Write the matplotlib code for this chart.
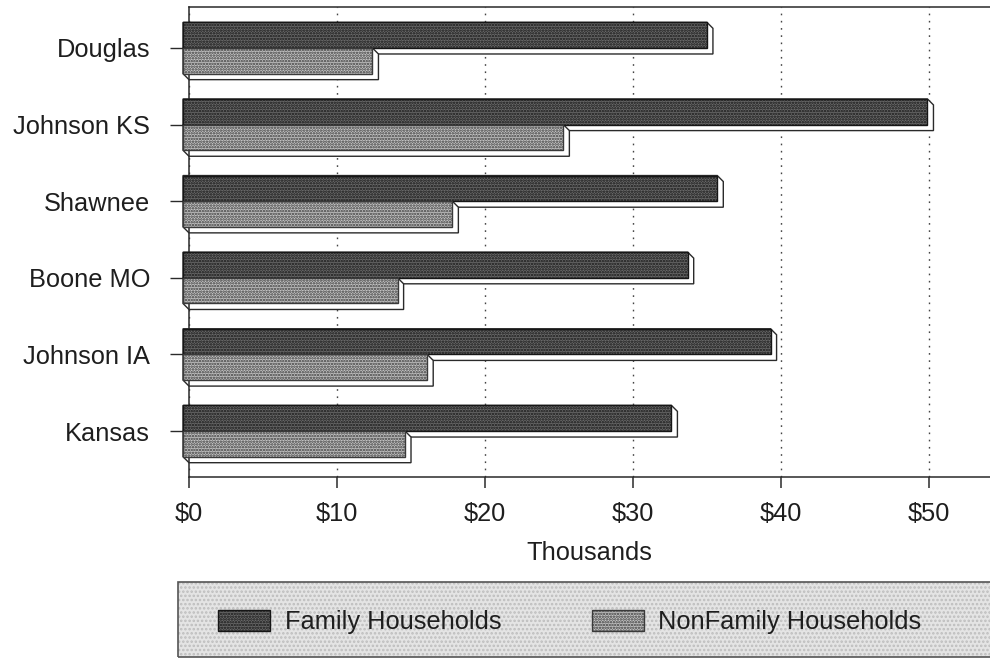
import matplotlib
matplotlib.use("Agg")
import matplotlib.pyplot as plt
from matplotlib.patches import Polygon, Rectangle

# Median household income by county, thousands of dollars
counties = ["Douglas", "Johnson KS", "Shawnee", "Boone MO", "Johnson IA", "Kansas"]
family = [35.4, 50.3, 36.1, 34.1, 39.7, 33.0]
nonfamily = [12.8, 25.7, 18.2, 14.5, 16.5, 15.0]
series_labels = ["Family Households", "NonFamily Households"]
xticks = [0, 10, 20, 30, 40, 50]
xtick_labels = ["$0", "$10", "$20", "$30", "$40", "$50"]

plt.rcParams["font.family"] = ["Liberation Sans", "DejaVu Sans"]
plt.rcParams["hatch.linewidth"] = 1.2
TEXT = "#1e1e1e"
LINE = "#2a2a2a"
FS = 18.3

W, H, DPI = 990, 658, 100
fig = plt.figure(figsize=(W / DPI, H / DPI), dpi=DPI, facecolor="white")

# plot frame in pixels
x0_px, x1_px, top_px, bot_px = 189, 990, 7, 477
ax = fig.add_axes([x0_px / W, 1 - bot_px / H, (x1_px - x0_px) / W, (bot_px - top_px) / H])
ax.set_facecolor("white")

xmax = 54.12
ax.set_xlim(0, xmax)
ax.set_ylim(5.6, -0.535)

# 3-D depth offset, converted from pixels to data units
ax_w_px = x1_px - x0_px
ax_h_px = bot_px - top_px
depth_px = 6
dx = depth_px * xmax / ax_w_px
dy = depth_px * (5.6 + 0.535) / ax_h_px

bar_h = 0.335
ypos = list(range(len(counties)))

fam_color = "#6a6a6a"
non_color = "#c4c4c4"


def depth_outline(v, ytop):
    pts = [(-dx, ytop), (v - dx, ytop), (v, ytop + dy), (v, ytop + bar_h + dy),
           (0, ytop + bar_h + dy), (-dx, ytop + bar_h)]
    ax.add_patch(Polygon(pts, closed=True, facecolor="white", edgecolor=LINE,
                         linewidth=1.0, zorder=2, clip_on=False))


for i, y in enumerate(ypos):
    depth_outline(family[i], y - bar_h)
    depth_outline(nonfamily[i], y)

fam_bars = ax.barh([y - bar_h for y in ypos], family, height=bar_h, left=-dx,
                   align="edge", color=fam_color, edgecolor="#161616", hatch="......",
                   linewidth=1.0, zorder=3, clip_on=False, label=series_labels[0])
non_bars = ax.barh(ypos, nonfamily, height=bar_h, left=-dx, align="edge",
                   color=non_color, edgecolor="#3a3a3a", hatch="......",
                   linewidth=1.0, zorder=3, clip_on=False, label=series_labels[1])

# axes styling
for side in ["left", "top", "bottom"]:
    ax.spines[side].set_color(LINE)
    ax.spines[side].set_linewidth(1.1)
ax.spines["right"].set_visible(False)

ax.set_xticks(xticks)
ax.set_xticklabels(xtick_labels)
ax.set_yticks(ypos)
ax.set_yticklabels(counties)
ax.tick_params(axis="x", length=8, width=1.1, color=LINE, pad=10, labelsize=FS,
               labelcolor=TEXT)
ax.tick_params(axis="y", length=14, width=1.0, color=LINE, pad=14, labelsize=FS,
               labelcolor=TEXT)
ax.xaxis.grid(True, linestyle=(0, (1.2, 4)), color="#444444", linewidth=1.0, zorder=0)
ax.set_axisbelow(True)
ax.set_xlabel("Thousands", fontsize=FS, color=TEXT, labelpad=11)

# legend panel: light stippled fill with a dark outline
panel_xy = (178 / W, 1 - 657 / H)
panel_wh = ((W + 10 - 178) / W, 75 / H)
fig.patches.append(Rectangle(panel_xy, *panel_wh, transform=fig.transFigure,
                             facecolor="#e4e4e4", edgecolor="#bdbdbd", hatch="....",
                             linewidth=0, zorder=0))
fig.patches.append(Rectangle(panel_xy, *panel_wh, transform=fig.transFigure,
                             facecolor="none", edgecolor="#555555", linewidth=1.2,
                             zorder=1))

fs_px = FS * DPI / 72
leg = fig.legend(handles=[fam_bars, non_bars], labels=series_labels, ncol=2,
                 loc="center left", bbox_to_anchor=(218 / W, 1 - 622 / H),
                 frameon=False, fontsize=FS, handlelength=52 / fs_px,
                 handleheight=22 / fs_px, handletextpad=15 / fs_px,
                 columnspacing=90 / fs_px, borderpad=0, borderaxespad=0)
for t in leg.get_texts():
    t.set_color(TEXT)

fig.savefig("out.png", dpi=DPI, facecolor="white")
